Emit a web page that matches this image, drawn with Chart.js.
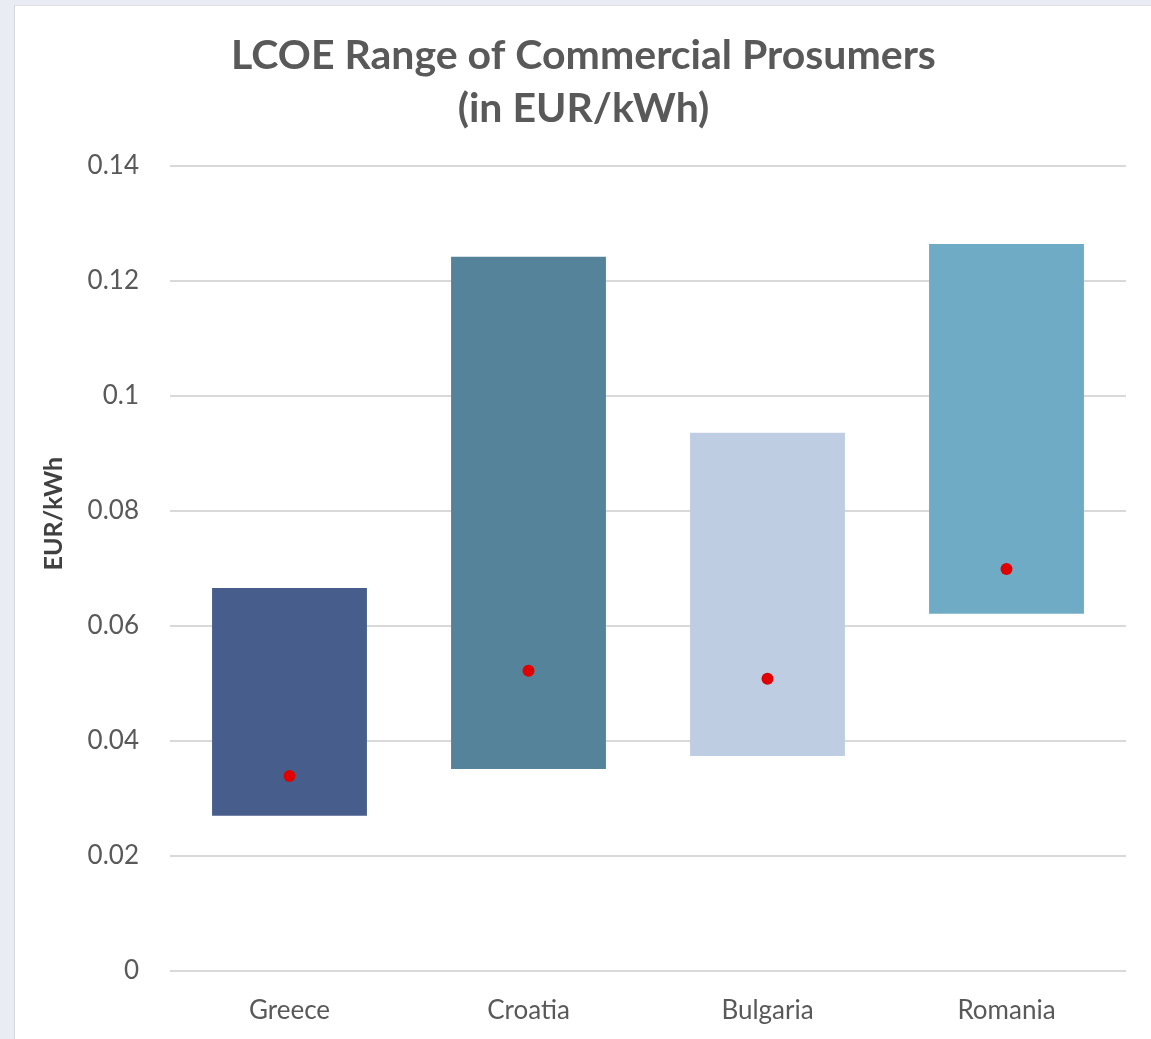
<!DOCTYPE html>
<html>
<head>
<meta charset="utf-8">
<script src="https://cdn.jsdelivr.net/npm/chart.js@4.4.1/dist/chart.umd.min.js"></script>
<style>
  html, body { margin: 0; padding: 0; background: #e9edf3; }
  #wrap {
    position: absolute; left: 14px; top: 5px;
    width: 1137px; height: 1034px;
    background: #ffffff;
    border-left: 1px solid #d3d6db; border-top: 1px solid #dcdfe4;
  }
</style>
</head>
<body>
<div id="wrap"><canvas id="lcoe"></canvas></div>
<script>
// LCOE range per country (EUR/kWh)
const countries = ["Greece", "Croatia", "Bulgaria", "Romania"];
const lcoeLow  = [0.0270, 0.0351, 0.0374, 0.0621];
const lcoeHigh = [0.0666, 0.1242, 0.0936, 0.1264];
const lcoeMid  = [0.0339, 0.0522, 0.0508, 0.0699];
const barColors = ["#475e8c", "#55839a", "#bfcde3", "#70abc6"];

const textGrey = "#595959";
const fontFam = "Lato, 'Open Sans', sans-serif";

const ranges = countries.map((c, i) => [lcoeLow[i], lcoeHigh[i]]);

// y-axis title sits a bit above the axis middle, like the original, so draw it by hand
const axisTitle = {
    id: "axisTitle",
    afterDraw(chart) {
        const { ctx, chartArea } = chart;
        ctx.save();
        ctx.translate(39, chartArea.top + (chartArea.bottom - chartArea.top) * 0.432);
        ctx.rotate(-Math.PI / 2);
        ctx.fillStyle = "#404040";
        ctx.font = "bold 25px " + fontFam;
        ctx.textAlign = "center";
        ctx.textBaseline = "middle";
        ctx.fillText("EUR/kWh", 0, 0);
        ctx.restore();
    }
};

new Chart(document.getElementById("lcoe"), {
    type: "bar",
    data: {
        labels: countries,
        datasets: [
            {
                type: "line",
                label: "Typical",
                data: lcoeMid,
                showLine: false,
                pointRadius: 6,
                pointHoverRadius: 6,
                pointBackgroundColor: "#e00000",
                pointBorderWidth: 0,
                order: 0
            },
            {
                label: "Range",
                data: ranges,
                backgroundColor: barColors,
                borderWidth: 0,
                categoryPercentage: 1,
                barPercentage: 0.648,
                order: 1
            }
        ]
    },
    options: {
        responsive: true,
        maintainAspectRatio: false,
        animation: false,
        layout: { padding: { top: 23, right: 26, left: 26, bottom: 0 } },
        plugins: {
            legend: { display: false },
            tooltip: { enabled: false },
            title: {
                display: true,
                text: ["LCOE Range of Commercial Prosumers", "(in EUR/kWh)"],
                color: textGrey,
                font: { family: fontFam, size: 41, weight: "bold", lineHeight: 1.29 },
                padding: { top: 0, bottom: 31 }
            }
        },
        scales: {
            x: {
                grid: { display: false },
                border: { display: false },
                ticks: {
                    color: textGrey,
                    font: { family: fontFam, size: 26 },
                    padding: 16
                },
                afterFit: (scale) => { scale.height = 69; }
            },
            y: {
                min: 0,
                max: 0.14,
                grid: { color: "#d9d9d9", lineWidth: 2, drawTicks: false },
                border: { display: false },
                ticks: {
                    stepSize: 0.02,
                    color: textGrey,
                    font: { family: fontFam, size: 26 },
                    padding: 31,
                    callback: (v) => String(Math.round(v * 100) / 100)
                },
                afterFit: (scale) => { scale.width = 129; }
            }
        }
    },
    plugins: [axisTitle]
});
</script>
</body>
</html>
